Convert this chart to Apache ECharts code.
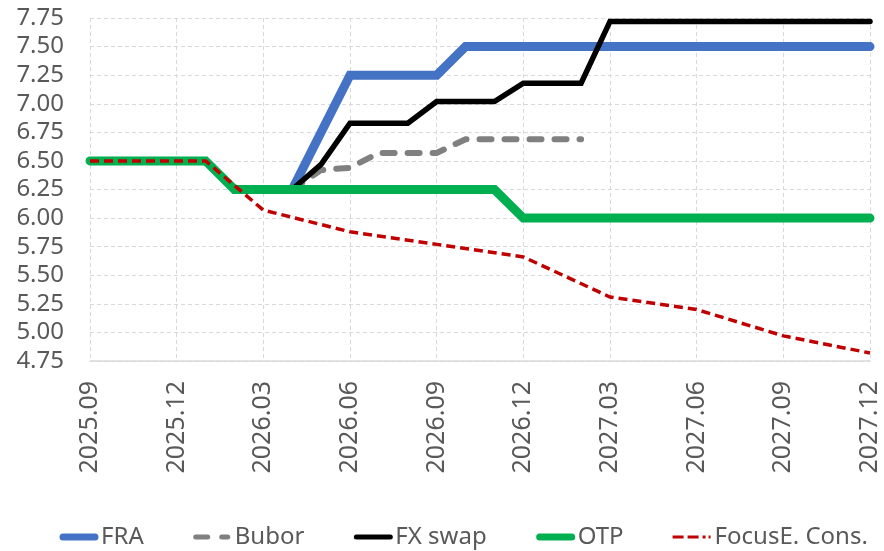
<!DOCTYPE html>
<html>
<head>
<meta charset="utf-8">
<script src="https://cdn.jsdelivr.net/npm/echarts@6/dist/echarts.min.js"></script>
<style>
html,body{margin:0;padding:0;background:#fff;}
#c{width:884px;height:551px;}
</style>
</head>
<body>
<div id="c"></div>
<script>
const months = ['2025.09','2025.10','2025.11','2025.12','2026.01','2026.02','2026.03','2026.04','2026.05','2026.06','2026.07','2026.08','2026.09','2026.10','2026.11','2026.12','2027.01','2027.02','2027.03','2027.04','2027.05','2027.06','2027.07','2027.08','2027.09','2027.10','2027.11','2027.12'];
const fra   = [null,null,null,null,null,null,null,6.25,6.75,7.25,7.25,7.25,7.25,7.5,7.5,7.5,7.5,7.5,7.5,7.5,7.5,7.5,7.5,7.5,7.5,7.5,7.5,7.5];
const bubor = [null,null,null,null,null,null,null,6.25,6.42,6.44,6.57,6.57,6.57,6.69,6.69,6.69,6.69,6.69,null,null,null,null,null,null,null,null,null,null];
const fxswap= [null,null,null,null,null,null,null,6.25,6.47,6.83,6.83,6.83,7.02,7.02,7.02,7.18,7.18,7.18,7.72,7.72,7.72,7.72,7.72,7.72,7.72,7.72,7.72,7.72];
const otp   = [6.5,6.5,6.5,6.5,6.5,6.25,6.25,6.25,6.25,6.25,6.25,6.25,6.25,6.25,6.25,6.0,6.0,6.0,6.0,6.0,6.0,6.0,6.0,6.0,6.0,6.0,6.0,6.0];
const focus = [6.5,6.5,6.5,6.5,6.5,null,6.07,null,null,5.88,null,null,5.77,null,null,5.66,null,null,5.31,null,null,5.20,null,null,4.97,null,null,4.82];
const seriesNames = ['FRA','Bubor','FX swap','OTP','FocusE. Cons.'];
const yTicks = {min:4.75, max:7.75, step:0.25};

const font = "'Noto Sans', 'Open Sans', sans-serif";
// legend icons: paths with a 40x8 bounding frame (M points set the bounds)
const frame = 'M0,0 M40,8 ';
const icons = {
  'FRA':   'path://' + frame + 'M4,0.5 L36,0.5 A3.5,3.5 0 0 1 36,7.5 L4,7.5 A3.5,3.5 0 0 1 4,0.5 Z',
  'Bubor': 'path://' + frame + 'M3,1.5 L15,1.5 A2.5,2.5 0 0 1 15,6.5 L3,6.5 A2.5,2.5 0 0 1 3,1.5 Z M29,1.5 L35,1.5 A2.5,2.5 0 0 1 35,6.5 L29,6.5 A2.5,2.5 0 0 1 29,1.5 Z',
  'FX swap':'path://' + frame + 'M3,1.5 L37,1.5 A2.5,2.5 0 0 1 37,6.5 L3,6.5 A2.5,2.5 0 0 1 3,1.5 Z',
  'OTP':   'path://' + frame + 'M4,0.5 L36,0.5 A3.5,3.5 0 0 1 36,7.5 L4,7.5 A3.5,3.5 0 0 1 4,0.5 Z',
  'FocusE. Cons.':'path://' + frame + 'M0,2.5 L11,2.5 L11,5.5 L0,5.5 Z M15,2.5 L26,2.5 L26,5.5 L15,5.5 Z M30,2.5 L33,2.5 L33,5.5 L30,5.5 Z M36,2.5 L38,2.5 L38,5.5 L36,5.5 Z'
};
const chart = echarts.init(document.getElementById('c'), null, {renderer:'canvas'});
function mk(name, data, color, width, type, cap, extra){
  return Object.assign({
    name, type:'line', data, symbol:'none', showSymbol:false,
    lineStyle:{color, width, type, cap:cap||'butt', join:'miter'},
    itemStyle:{color},
    emphasis:{disabled:true}, animation:false
  }, extra||{});
}
chart.setOption({
  animation:false,
  textStyle:{fontFamily:font},
  grid:{left:90, right:14, top:18, bottom:190, containLabel:false},
  legend:{
    top:520, left:54, itemWidth:40, itemHeight:8, itemGap:49,
    itemStyle:{borderWidth:0},
    textStyle:{fontFamily:font, fontSize:24, color:'#595959', padding:[0,0,0,-3]},
    data:seriesNames.map(n=>({name:n, icon:icons[n]}))
  },
  xAxis:{
    type:'category', data:months, boundaryGap:false,
    axisLine:{lineStyle:{color:'#D9D9D9', width:1.5}},
    axisTick:{show:false},
    axisLabel:{interval:2, rotate:90, margin:20, fontFamily:font, fontSize:25, color:'#595959'},
    splitLine:{show:true, interval:2, lineStyle:{color:'#D9D9D9', type:[4,3], width:1}}
  },
  yAxis:{
    type:'value', min:yTicks.min, max:yTicks.max, interval:yTicks.step,
    axisLine:{show:false}, axisTick:{show:false},
    axisLabel:{formatter:v=>v.toFixed(2), fontFamily:font, fontSize:24, color:'#595959', margin:26},
    splitLine:{lineStyle:{color:'#D9D9D9', type:[4,3], width:1}}
  },
  series:[
    mk(seriesNames[0], fra, '#4472C4', 9, 'solid', 'round'),
    mk(seriesNames[1], bubor, '#808080', 6, [12,13], 'round'),
    mk(seriesNames[2], fxswap, '#000000', 5.5, 'solid', 'round'),
    mk(seriesNames[3], otp, '#00B050', 9, 'solid', 'round'),
    mk(seriesNames[4], focus, '#C00000', 3.5, [9,5], 'butt', {connectNulls:true})
  ]
});
</script>
</body>
</html>
